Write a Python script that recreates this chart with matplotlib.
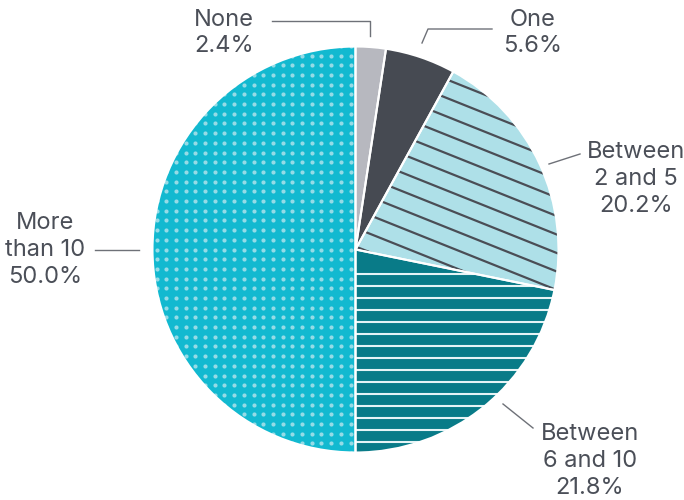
import matplotlib
matplotlib.use("Agg")
import matplotlib.pyplot as plt
import numpy as np
from matplotlib.patches import Wedge

plt.rcParams['font.family'] = ['Inter', 'DejaVu Sans']

# data
labels = ["None", "One", "Between\n2 and 5", "Between\n6 and 10", "More\nthan 10"]
values = [2.4, 5.6, 20.2, 21.8, 50.0]
colors = ["#b7b8bf", "#464a52", "#aee0e8", "#097b88", "#12b9d0"]

text_col = "#4b4f58"
line_col = "#6e7178"

fig = plt.figure(figsize=(6.84, 5), dpi=100)
ax = fig.add_axes([0, 0, 1, 1])

cx, cy, R = 355.5, 250.5, 203
wedges, _ = ax.pie(values, colors=colors, startangle=90, counterclock=False,
                   center=(cx, cy), radius=R,
                   wedgeprops=dict(edgecolor="none", linewidth=0))

ax.set_xlim(0, 684)
ax.set_ylim(0, 500)
ax.set_aspect("equal")
ax.axis("off")

# texture: diagonal dark lines on "2 and 5"
w = wedges[2]
slope = -0.40
for b in np.arange(-400, 900, 18.5):
    xs = np.array([cx - 10, cx + R + 10])
    ys = b + slope * (xs - cx) + cy - 300
    ln, = ax.plot(xs, ys, color="#4a4d55", lw=1.6, zorder=3, solid_capstyle="butt")
    ln.set_clip_path(w)

# texture: horizontal white lines on "6 and 10"
w = wedges[3]
for y in np.arange(500 - 274, cy - R - 5, -12):
    ln, = ax.plot([cx - 5, cx + R + 5], [y, y], color="#e6f4f6", lw=1.5, zorder=3)
    ln.set_clip_path(w)

# texture: dots on "More than 10"
w = wedges[4]
gx, gy = np.meshgrid(np.arange(cx - 5, cx - R - 10, -9.7), np.arange(cy, cy + R + 10, 9.7))
gx2, gy2 = np.meshgrid(np.arange(cx - 5, cx - R - 10, -9.7), np.arange(cy - 9.7, cy - R - 10, -9.7))
px = np.concatenate([gx.ravel(), gx2.ravel()])
py = np.concatenate([gy.ravel(), gy2.ravel()])
sc = ax.scatter(px, py, s=9, color="#95dbe6", linewidths=0, zorder=3)
sc.set_clip_path(w)

# white separators on top
for w in wedges:
    ax.add_patch(Wedge(w.center, w.r, w.theta1, w.theta2, facecolor="none",
                       edgecolor="white", lw=1.5, zorder=4))

# labels and leader lines
texts = [f"{l}\n{v:.1f}%" for l, v in zip(labels, values)]
text_pos = [(224, 467), (533, 467), (636, 321), (590, 39), (45, 250)]
leaders = [
    [(272, 479), (370, 479), (370, 464)],
    [(492, 471), (428, 471), (422, 457)],
    [(580, 346), (549, 336)],
    [(533, 72), (503, 96)],
    [(95, 250), (139, 250)],
]
for t, (x, y), pts in zip(texts, text_pos, leaders):
    ax.text(x, y, t, ha="center", va="center", fontsize=17, color=text_col,
            linespacing=1.28)
    pts = np.array(pts)
    ax.plot(pts[:, 0], pts[:, 1], color=line_col, lw=1.0)

fig.savefig("out.png", dpi=100)
